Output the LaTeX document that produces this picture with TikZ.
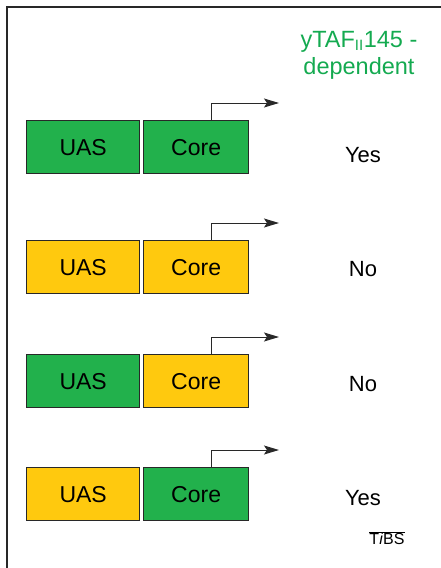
\documentclass[tikz,border=0pt]{standalone}
\usepackage{fontspec}
\setmainfont{Liberation Sans}
\usetikzlibrary{arrows.meta}
\definecolor{boxgreen}{RGB}{34,177,76}
\definecolor{boxyellow}{RGB}{255,201,14}
\definecolor{txtgreen}{RGB}{20,170,80}
\definecolor{linegray}{RGB}{40,40,40}
\begin{document}
\begin{tikzpicture}[x=1pt,y=-1pt,
  box/.style={draw=linegray,line width=1.3pt,minimum height=53pt,inner sep=0pt,anchor=north west,font=\fontsize{23}{27}\selectfont},
  uasbox/.style={box,minimum width=113pt},
  corebox/.style={box,minimum width=105pt},
  lbl/.style={font=\fontsize{22}{26}\selectfont},
  arr/.style={draw=linegray,line width=1pt,-{Stealth[length=15pt,width=9pt,inset=3pt]}}]
\useasboundingbox (0,0) rectangle (441,568);
\draw[line width=1.5pt,linegray] (7,568) -- (7,7) -- (441,7);
\node[txtgreen,align=center,font=\fontsize{23.5}{27}\selectfont] (hdr) at (359,55)
  {yTAF\textsubscript{\fontsize{15}{15}\selectfont II}145 -\\dependent};
% rows
\foreach \i/\y/\ca/\cb/\ans/\ay in {1/120/boxgreen/boxgreen/Yes/155,2/240/boxyellow/boxyellow/No/269,3/354/boxgreen/boxyellow/No/384,4/467/boxyellow/boxgreen/Yes/498}{
  \node[uasbox,fill=\ca] (u\i) at (26,\y) {UAS};
  \node[corebox,fill=\cb] (c\i) at (143,\y) {Core};
  \coordinate (t\i) at ([xshift=68pt]c\i.north west);
  \coordinate (e\i) at (279,\y-17);
  \draw[arr] (t\i) |- (e\i);
  \node[lbl] (a\i) at (363,\ay) {\ans};
}
\node[font=\fontsize{16}{18}\selectfont] (tibs) at (387,538) {$\overline{\mbox{T\textit{i}BS}}$};
\end{tikzpicture}
\end{document}
